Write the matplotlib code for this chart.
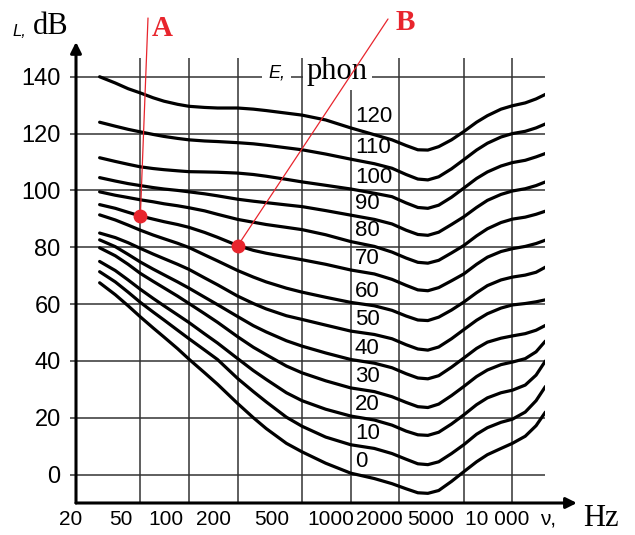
import matplotlib
matplotlib.use("Agg")
import matplotlib.pyplot as plt
from matplotlib.ticker import NullLocator
from matplotlib.transforms import ScaledTranslation

freq = [28, 35, 42, 50, 60, 70, 85, 100, 125, 150, 200, 250, 300, 400, 500, 700,
        1000, 1400, 1800, 2200, 2600, 3000, 3500, 4200, 5000, 6000, 7000, 8500,
        10000, 12000, 14000, 16000]

# sound level L (dB) along each equal-loudness contour
phon_0 = [67.5, 63.3, 59.4, 55.5, 51.6, 48.4, 44.3, 40.6, 35.8, 31.8, 25, 20, 16.2, 11, 8, 4,
          0.5, -1.4, -3.2, -5, -6.4, -6.6, -5.6, -2.4, 1, 4.5, 7, 9.2, 11, 13.5, 17.2, 22]
phon_10 = [71.4, 67.8, 64.2, 60.6, 57.2, 54.4, 50.8, 47.8, 43.8, 40.5, 33.8, 29.2, 25.6, 20.2, 17, 13.2,
           10.5, 9.2, 7.4, 5.4, 3.8, 3.5, 4.5, 7.4, 10.5, 14.2, 16.5, 18.4, 19.5, 22, 26, 31]
phon_20 = [75, 71.8, 68.5, 65.2, 62, 59.4, 56.2, 53.5, 49.5, 46.3, 40.8, 36.6, 33.5, 28.8, 26, 23,
           20.6, 19.2, 17.4, 15.3, 14, 13.8, 14.9, 17.8, 21, 24.6, 27, 28.8, 29.7, 31.5, 35, 40]
phon_30 = [79.8, 77, 74, 70.8, 68, 65.7, 62.8, 60.2, 56.6, 53.6, 48.5, 44.8, 42.2, 38.2, 35.8, 33,
           30.5, 29.2, 27.4, 25.4, 23.9, 23.6, 24.8, 27.8, 31, 34.5, 36.8, 38.7, 39.6, 40.8, 43.2, 47]
phon_40 = [82.6, 80.2, 77.5, 74.8, 72.3, 70.3, 67.8, 65.6, 62.4, 59.8, 55.6, 52.4, 50.2, 47.1, 45.2, 42.8,
           40.5, 39.2, 37.6, 35.5, 34, 33.7, 34.8, 37.8, 41, 44.4, 46.6, 48, 48.8, 49.6, 50.8, 52.5]
phon_50 = [85, 83.4, 81.6, 79.6, 77.6, 76, 74, 72.2, 69.2, 66.8, 62.8, 60.2, 58.3, 55.9, 54.6, 52.6,
           50.5, 49.3, 47.8, 45.7, 44.2, 43.8, 44.9, 47.8, 51, 54.3, 56.6, 58.6, 59.7, 60.2, 60.8, 61.5]
phon_60 = [91.4, 89.6, 87.8, 86, 84.3, 83, 81.4, 79.9, 77.3, 75.2, 71.8, 69.5, 67.8, 65.6, 64.2, 62.4,
           60.6, 59.4, 57.8, 55.8, 54.4, 54.2, 55.4, 57.9, 60.7, 64, 66.5, 68.5, 69.5, 70.2, 71.2, 73]
phon_70 = [95, 93.7, 92.3, 91, 89.9, 89, 88, 87, 85.2, 83.5, 80.6, 78.9, 77.9, 76.6, 75.6, 74,
           72, 70.6, 68.7, 66.6, 65, 64.7, 65.8, 68.2, 70.6, 74, 76.5, 78.5, 79.5, 80.3, 81.3, 82.5]
phon_80 = [99.5, 98.3, 97.5, 96.7, 96, 95.3, 94.6, 93.9, 92.8, 91.6, 89.8, 88.8, 88, 87, 86.2, 84.4,
           82, 80.3, 78.3, 76.2, 74.7, 74.4, 75.4, 78, 80.6, 84, 86.5, 88.7, 89.9, 90.6, 91.6, 92.7]
phon_90 = [104.5, 103.3, 102.4, 101.7, 101, 100.5, 100, 99.5, 98.8, 98.1, 96.9, 96.2, 95.7, 94.9, 94.3, 92.9,
           91.3, 89.8, 88.2, 86, 84.5, 84.2, 85.3, 88, 90.7, 94, 96.5, 98.6, 99.8, 100.6, 101.7, 103]
phon_100 = [111.5, 110.2, 109.2, 108.3, 107.7, 107.3, 106.9, 106.6, 106.5, 106.4, 106.1, 105.6, 105, 103.9, 103, 101.8,
            100.5, 99, 97.8, 95.6, 94, 93.7, 94.8, 97.6, 100.8, 104.2, 106.5, 108.6, 109.8, 110.6, 111.8, 113]
phon_110 = [124, 122.6, 121.5, 120.6, 119.7, 119, 118.3, 117.8, 117.4, 117.2, 116.8, 116.4, 115.9, 115, 114.3, 112.8,
            111, 109.4, 107.8, 105.6, 104, 103.7, 104.8, 107.6, 110.8, 114.2, 116.6, 118.8, 120, 120.8, 122, 123.4]
phon_120 = [140, 137.8, 135.8, 134.3, 132.6, 131.4, 130.3, 129.6, 129.2, 129, 129, 128.6, 128.1, 127.2, 126.5, 124.8,
            122, 119.6, 117.8, 115.8, 114.3, 114.2, 115.4, 117.8, 120.7, 124, 126.3, 128.6, 129.8, 130.8, 132.2, 133.8]

phon_levels = [0, 10, 20, 30, 40, 50, 60, 70, 80, 90, 100, 110, 120]
curves = [phon_0, phon_10, phon_20, phon_30, phon_40, phon_50, phon_60,
          phon_70, phon_80, phon_90, phon_100, phon_110, phon_120]

# marked points on the 70 phon contour
point_names = ["A", "B"]
point_freq = [50, 200]
point_level = [91, 80.5]

tick_freq = [20, 50, 100, 200, 500, 1000, 2000, 5000, 10000]
tick_freq_labels = ["20", "50", "100", "200", "500", "1000", "2000", "5000", "10 000"]
level_ticks = [0, 20, 40, 60, 80, 100, 120, 140]

RED = "#e8252d"
SANS = "Liberation Sans"
SERIF = "Liberation Serif"

fig = plt.figure(figsize=(6.35, 5.35), dpi=100)
W, H = 635, 535
ax = fig.add_axes([76 / W, 1 - 503 / H, (545 - 76) / W, (503 - 58) / H])
ax.set_xscale("log")
ax.set_xlim(20, 15900)
ax.set_ylim(-10, 146.6)

for s in ax.spines.values():
    s.set_visible(False)

ax.set_xticks(tick_freq)
ax.set_xticklabels(tick_freq_labels, fontsize=15, family=SANS)
ax.xaxis.set_minor_locator(NullLocator())
ax.set_yticks(level_ticks)
ax.set_yticklabels([str(v) for v in level_ticks], fontsize=17, family=SANS)
ax.tick_params(axis="x", length=0, pad=5)
ax.tick_params(axis="y", length=4, width=1.1, color="#333333", pad=7)
ax.grid(True, color="#333333", lw=1.1)
ax.set_axisbelow(True)

# in the original the frequency labels are typeset, not centred on the grid lines
label_nudge_px = [-5, -20, -23, -24, -30, -20, -20, -33, -15]
for lbl, dx in zip(ax.get_xticklabels(), label_nudge_px):
    lbl.set_transform(lbl.get_transform() + ScaledTranslation(dx / 100, 0, fig.dpi_scale_trans))

# axes with arrows
ax.annotate("", xy=(1.068, 0), xytext=(0, 0), xycoords="axes fraction",
            arrowprops=dict(arrowstyle="-|>", lw=2.2, color="k", mutation_scale=16,
                            shrinkA=0, shrinkB=0), annotation_clip=False)
ax.annotate("", xy=(0, 1.036), xytext=(0, 0), xycoords="axes fraction",
            arrowprops=dict(arrowstyle="-|>", lw=2.2, color="k", mutation_scale=16,
                            shrinkA=0, shrinkB=0), annotation_clip=False)

# contours
i1000 = freq.index(1000)
for lv, c in zip(phon_levels, curves):
    ax.plot(freq, c, color="k", lw=2.3, solid_joinstyle="round",
            solid_capstyle="round", zorder=3)
    ax.text(1060, c[i1000] + 4, str(lv), fontsize=16, family=SANS,
            ha="left", va="center", zorder=4)

# axis titles
fig.text(12 / W, 1 - 31 / H, "L,", style="italic", fontsize=12, family=SANS, va="center")
fig.text(33 / W, 1 - 26 / H, "dB", fontsize=22, family=SERIF, va="center")
ax.text(268 / W, 1 - 73 / H, "E,", style="italic", fontsize=13, family=SANS,
        va="center", transform=fig.transFigure, zorder=4,
        bbox=dict(facecolor="white", edgecolor="none", pad=4))
ax.text(307 / W, 1 - 71 / H, "phon", fontsize=22, family=SERIF, va="center",
        transform=fig.transFigure, zorder=4,
        bbox=dict(facecolor="white", edgecolor="none", pad=3))
fig.text(540 / W, 1 - 519 / H, "ν,", fontsize=15, family=SANS, va="center")
fig.text(583 / W, 1 - 518 / H, "Hz", fontsize=22, family=SERIF, va="center")

# red points with their leader lines
ax.plot(point_freq, point_level, "o", color=RED, ms=9, zorder=6)
leader_top = [(148, H - 18), (388, H - 19)]
label_pos = [(162, H - 28), (405, H - 23)]
for name, f, lv, top, lp in zip(point_names, point_freq, point_level, leader_top, label_pos):
    ax.annotate("", xy=(f, lv), xytext=top, textcoords="figure pixels",
                arrowprops=dict(arrowstyle="-", color=RED, lw=0.9, shrinkA=0, shrinkB=0),
                annotation_clip=False, zorder=5)
    fig.text(lp[0] / W, lp[1] / H, name, color=RED, fontsize=21, fontweight="bold",
             family=SERIF, ha="center", va="center")

fig.savefig("out.png", dpi=100)
